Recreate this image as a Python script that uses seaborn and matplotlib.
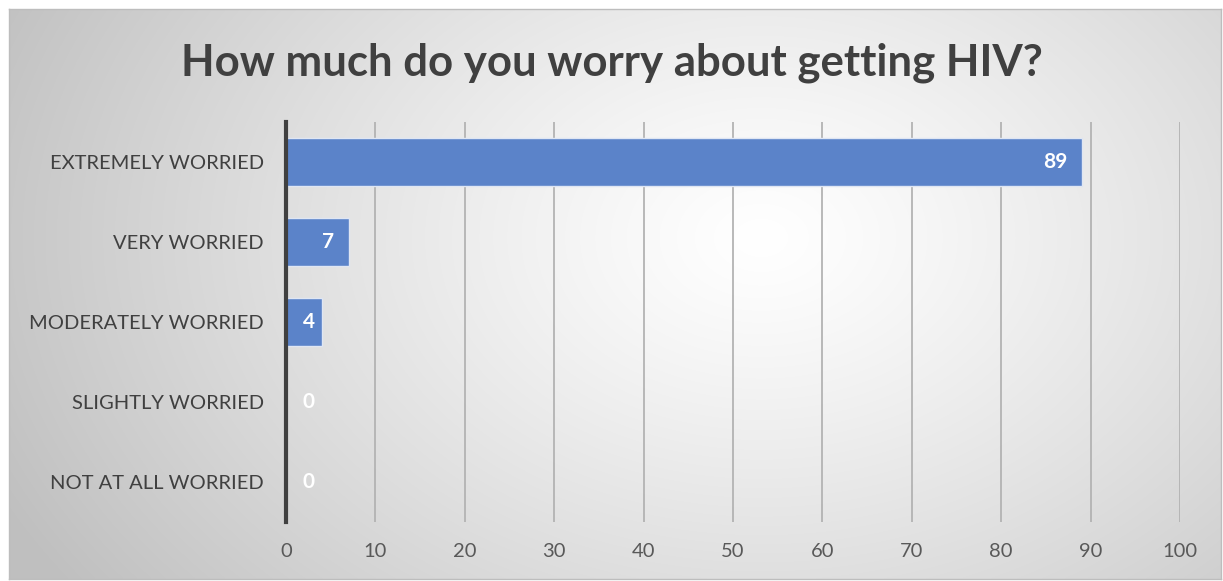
import numpy as np
import pandas as pd
import matplotlib
matplotlib.use("Agg")
import matplotlib.pyplot as plt
import seaborn as sns

categories = ["EXTREMELY WORRIED", "VERY WORRIED", "MODERATELY WORRIED",
              "SLIGHTLY WORRIED", "NOT AT ALL WORRIED"]
values = [89, 7, 4, 0, 0]
x_ticks = [0, 10, 20, 30, 40, 50, 60, 70, 80, 90, 100]
title = "How much do you worry about getting HIV?"

sns.set_theme(style="white")
plt.rcParams["font.family"] = ["Lato", "DejaVu Sans"]

W, H = 1223, 581
fig = plt.figure(figsize=(W / 100, H / 100), dpi=100)
fig.patch.set_facecolor("white")

# radial gradient background panel
bx0, by0, bx1, by1 = 9, 9, 1221, 579
bg = fig.add_axes([bx0 / W, 1 - by1 / H, (bx1 - bx0) / W, (by1 - by0) / H])
yy, xx = np.mgrid[0:300, 0:600]
cx, cy = 0.62 * 600, 0.40 * 300
r = np.sqrt(((xx - cx) / 420) ** 2 + ((yy - cy) / 320) ** 2)
r = np.clip(r, 0, 1)
g = 1.0 - 0.25 * r ** 1.2
bg.imshow(np.dstack([g, g, g]), aspect="auto", extent=[0, 1, 0, 1], interpolation="bilinear")
bg.set_xticks([]); bg.set_yticks([])
for s in bg.spines.values():
    s.set_color("#bdbdbd"); s.set_linewidth(1.0)

ax = fig.add_axes([286 / W, 1 - 522 / H, (1180 - 286) / W, (522 - 122) / H])
ax.patch.set_alpha(0)

df = pd.DataFrame({"category": categories, "value": values})
sns.barplot(data=df, y="category", x="value", orient="h", ax=ax,
            color="#5b83c9", saturation=1, width=0.6,
            edgecolor="#dfe6f3", linewidth=1.0, zorder=3)

ax.set_xlim(0, 100)
ax.set_ylim(4.5, -0.5)
ax.set_xticks(x_ticks)
ax.set_xticklabels([str(t) for t in x_ticks])
ax.grid(axis="x", color="#b3b3b3", linewidth=1.3, zorder=0)
ax.grid(axis="y", visible=False)
ax.set_axisbelow(True)
ax.set_xlabel(""); ax.set_ylabel("")
for name in ["top", "right", "bottom"]:
    ax.spines[name].set_visible(False)
ax.spines["left"].set_color("#404040")
ax.spines["left"].set_linewidth(3.0)
ax.spines["left"].set_zorder(5)
ax.tick_params(axis="x", length=0, pad=15, labelsize=14.5, labelcolor="#595959")
ax.tick_params(axis="y", length=0, pad=16, labelsize=14.5, labelcolor="#404040")

for i, v in enumerate(values):
    xr = max(v - 1.6, 3.2)
    ax.text(xr, i, str(v), ha="right", va="center", color="white",
            fontsize=15, fontweight="bold", zorder=6)

fig.text(0.5, 1 - 63 / H, title, ha="center", va="center",
         fontsize=31.5, fontweight="bold", color="#404040")

fig.savefig("out.png", dpi=100)
